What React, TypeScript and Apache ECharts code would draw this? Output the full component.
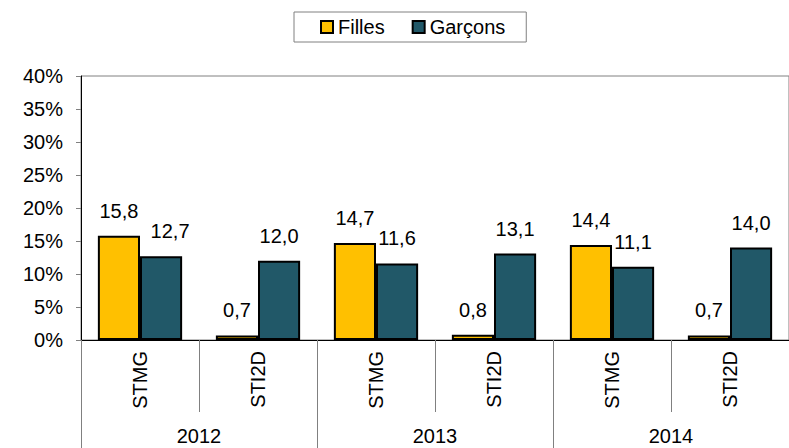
import React, { useEffect, useRef } from "react";
import * as echarts from "echarts";

const categories = ["STMG", "STI2D", "STMG", "STI2D", "STMG", "STI2D"];
const years = ["2012", "2013", "2014"];
const filles = [15.8, 0.7, 14.7, 0.8, 14.4, 0.7];
const garcons = [12.7, 12.0, 11.6, 13.1, 11.1, 14.0];
const yTicks = [0, 5, 10, 15, 20, 25, 30, 35, 40];

const FONT = "'Liberation Sans', Arial, sans-serif";
const fmt = (v: number) => v.toFixed(1).replace(".", ",");

export default function App() {
  const ref = useRef<HTMLDivElement>(null);
  useEffect(() => {
    if (!ref.current) return;
    const chart = echarts.init(ref.current, undefined, { renderer: "svg" });
    const labelCfg = {
      show: true,
      position: "top",
      distance: 15,
      color: "#000",
      fontSize: 20,
      fontFamily: FONT,
      formatter: (p: any) => fmt(p.value),
    };
    chart.setOption({
      animation: false,
      textStyle: { fontFamily: FONT },
      legend: {
        left: 294,
        top: 12,
        padding: [5, 21, 5, 26],
        itemGap: 27,
        itemWidth: 12,
        itemHeight: 12,
        borderColor: "#808080",
        borderWidth: 1,
        backgroundColor: "#fff",
        textStyle: { fontSize: 20, color: "#000", fontFamily: FONT },
        data: [
          { name: "Filles", icon: "rect" },
          { name: "Garçons", icon: "rect" },
        ],
      },
      grid: {
        left: 81,
        top: 76,
        width: 714,
        height: 264,
        show: true,
        borderColor: "#808080",
        borderWidth: 1,
        containLabel: false,
      },
      xAxis: [
        {
          type: "category",
          data: categories,
          position: "bottom",
          offset: 0,
          boundaryGap: true,
          axisLine: { show: true, lineStyle: { color: "#000", width: 1 } },
          axisTick: { show: true, interval: 0, length: 72, lineStyle: { color: "#808080" } },
          axisLabel: {
            interval: 0,
            rotate: 90,
            margin: 11,
            fontSize: 20,
            color: "#000",
            fontFamily: FONT,
          },
        },
        {
          type: "category",
          data: years,
          position: "bottom",
          offset: 0,
          boundaryGap: true,
          axisLine: { show: false },
          axisTick: { show: true, interval: 0, length: 120, lineStyle: { color: "#808080" } },
          axisLabel: {
            interval: 0,
            margin: 86,
            fontSize: 20,
            color: "#000",
            fontFamily: FONT,
          },
        },
      ],
      yAxis: {
        type: "value",
        min: yTicks[0],
        max: yTicks[yTicks.length - 1],
        interval: 5,
        axisLine: { show: true, lineStyle: { color: "#000", width: 1 } },
        axisTick: { show: true, length: 5, lineStyle: { color: "#808080" } },
        splitLine: { show: false },
        axisLabel: {
          margin: 18,
          fontSize: 20,
          color: "#000",
          fontFamily: FONT,
          formatter: "{value}%",
        },
      },
      series: [
        {
          name: "Filles",
          type: "bar",
          xAxisIndex: 0,
          data: filles,
          barGap: "0%",
          barCategoryGap: "28.6%",
          itemStyle: { color: "#FFC000", borderColor: "#000", borderWidth: 2 },
          label: labelCfg,
        },
        {
          name: "Garçons",
          type: "bar",
          xAxisIndex: 0,
          data: garcons.map((v, i) => (i === 0 ? { value: v, label: { offset: [9, 0] } } : v)),
          barGap: "0%",
          barCategoryGap: "28.6%",
          itemStyle: { color: "#215868", borderColor: "#000", borderWidth: 2 },
          label: labelCfg,
        },
      ],
    });
    return () => chart.dispose();
  }, []);
  return (
    <div
      ref={ref}
      style={{ position: "absolute", left: 0, top: 0, width: 789, height: 448, background: "#fff" }}
    />
  );
}
